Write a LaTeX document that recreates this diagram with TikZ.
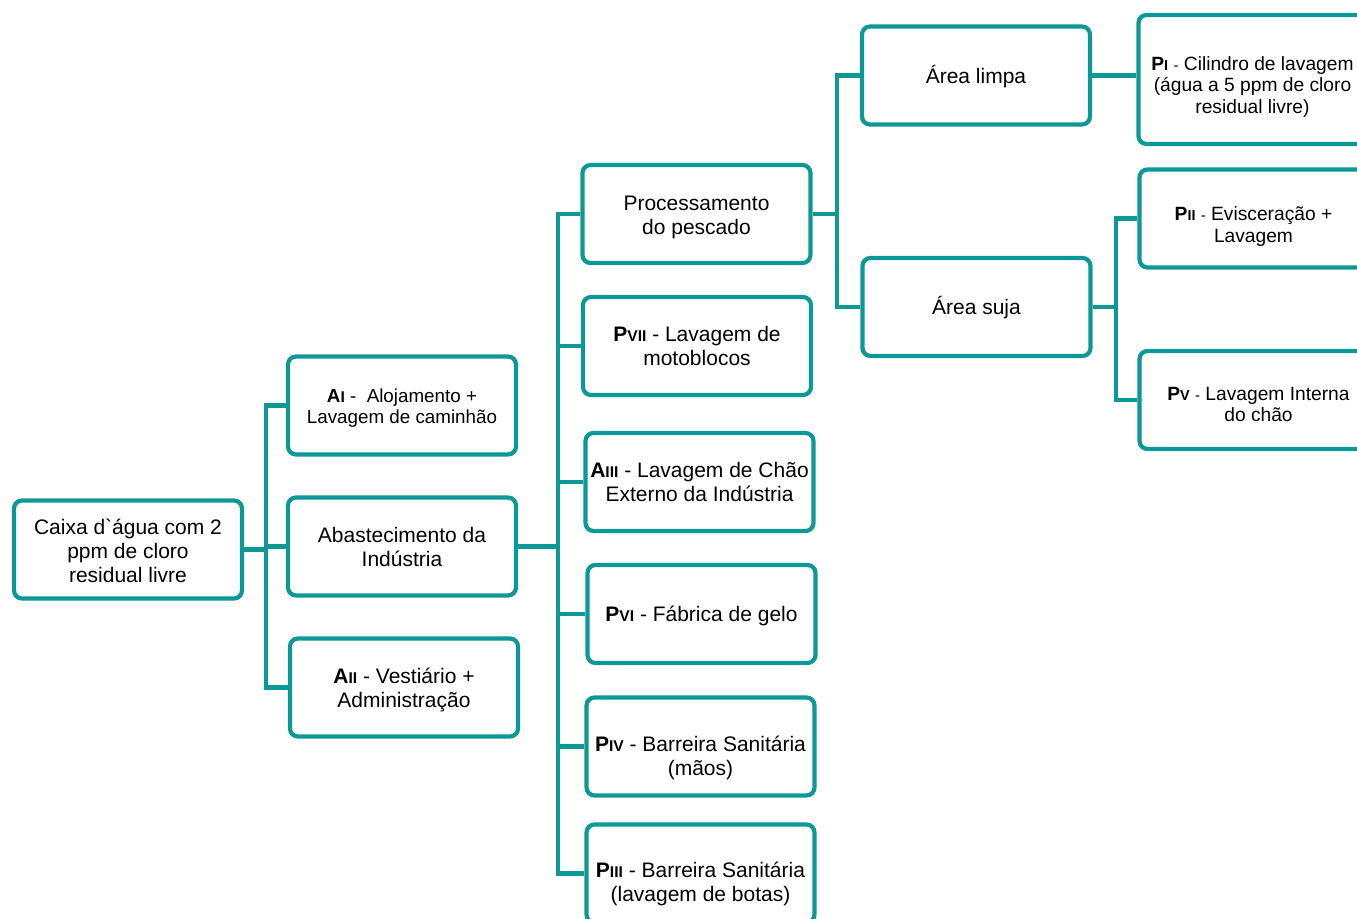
\documentclass[tikz,border=0pt]{standalone}
\usepackage{fontspec}
\setmainfont{Liberation Sans}[Ligatures=TeXOff]
\definecolor{tealc}{RGB}{13,152,152}
\newcommand\bt[2]{\raisebox{-#1}[\height][\depth]{\begin{tabular}{@{}c@{}}#2\end{tabular}}}
\newcommand\rn[1]{{\fontsize{7.8}{9}\selectfont\bfseries #1}}
\newcommand\rns[1]{{\fontsize{7.2}{9}\selectfont\bfseries #1}}
\newcommand\sdash{{\fontsize{7.5}{9}\selectfont -}}
\tikzset{
  box/.style={draw=tealc, line width=2.1pt, rounded corners=4pt, fill=white,
    minimum width=114pt, minimum height=49pt, inner sep=0pt,
    font=\fontsize{10.5}{12}\selectfont},
  rbox/.style={box, font=\fontsize{9.6}{10.8}\selectfont},
  conn/.style={draw=tealc, line width=2.1pt}
}
\begin{document}
\begin{tikzpicture}[x=0.5pt,y=-0.5pt]
\useasboundingbox (0,0) rectangle (1357,919);
\clip (0,0) rectangle (1357,919);
% nodes
\node[box] (caixa) at (128,549.5) {\bt{1.9pt}{Caixa d`água com 2\\ppm de cloro\\residual livre}};
\node[box, font=\fontsize{9.4}{10.6}\selectfont] (ai) at (402,405.5) {\bt{1.6pt}{\textbf{A}\rn{I} -\ \ Alojamento +\\Lavagem de caminhão}};
\node[box] (abast) at (402,546.5) {\bt{1.6pt}{Abastecimento da\\Indústria}};
\node[box] (aii) at (404,687.5) {\bt{1.6pt}{\textbf{A}\rn{II} - Vestiário +\\Administração}};
\node[box] (proc) at (696.5,214) {\bt{1.8pt}{Processamento\\do pescado}};
\node[box] (pvii) at (697,346) {\bt{1.6pt}{\textbf{P}\rn{VII} - Lavagem de\\motoblocos}};
\node[box] (aiii) at (699.5,482) {\bt{1.6pt}{\textbf{A}\rn{III} - Lavagem de Chão\\Externo da Indústria}};
\node[box] (pvi) at (701.5,614) {\bt{1.6pt}{\textbf{P}\rn{VI} - Fábrica de gelo}};
\node[box] (piv) at (700.5,746.5) {\bt{6pt}{\textbf{P}\rn{IV} - Barreira Sanitária\\(mãos)}};
\node[box] (piii) at (700.5,873.5) {\bt{5.5pt}{\textbf{P}\rn{III} - Barreira Sanitária\\(lavagem de botas)}};
\node[box] (limpa) at (976,75.5) {\bt{1.4pt}{Área limpa}};
\node[box] (suja) at (976.5,307) {\bt{1.2pt}{Área suja}};
\node[rbox, minimum height=64.5pt] (pi) at (1252.5,79.5) {\bt{4pt}{\textbf{P}\rns{I} \sdash{} Cilindro de lavagem\\(água a 5 ppm de cloro\\residual livre)}};
\node[rbox] (pii) at (1253.5,218.5) {\bt{4.2pt}{\textbf{P}\rns{II} \sdash{} Evisceração +\\Lavagem}};
\node[rbox] (pv) at (1253.5,400) {\bt{3.3pt}{\hspace*{5pt}\textbf{P}\rns{V} \sdash{} Lavagem Interna\\\hspace*{5pt}do chão}};
% trunk x positions
\coordinate (t1) at (266,0);
\coordinate (t2) at (558,0);
\coordinate (t3) at (837,0);
\coordinate (t4) at (1116,0);
% connectors
\draw[conn] (caixa.east) -- (caixa.east -| t1);
\draw[conn] (ai.west) -- (t1 |- ai.west) -- (t1 |- aii.west) -- (aii.west);
\draw[conn] (abast.west) -- (t1 |- abast.west);
\draw[conn] (abast.east) -- (abast.east -| t2);
\draw[conn] (proc.west) -- (t2 |- proc.west) -- (t2 |- piii.west) -- (piii.west);
\foreach \n in {pvii,aiii,pvi,piv} \draw[conn] (\n.west) -- (t2 |- \n.west);
\draw[conn] (proc.east) -- (proc.east -| t3);
\draw[conn] (limpa.west) -- (t3 |- limpa.west) -- (t3 |- suja.west) -- (suja.west);
\draw[conn] (limpa.east) -- (limpa.east -| pi.west);
\draw[conn] (suja.east) -- (suja.east -| t4);
\draw[conn] (pii.west) -- (t4 |- pii.west) -- (t4 |- pv.west) -- (pv.west);
\end{tikzpicture}
\end{document}
